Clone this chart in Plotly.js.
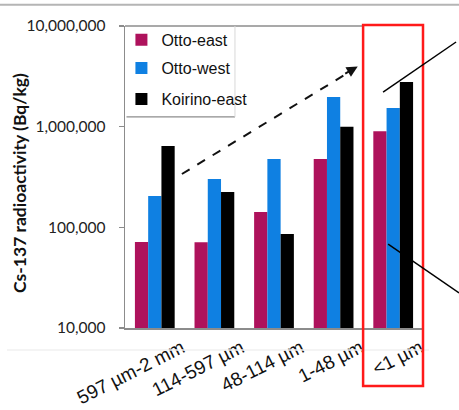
<!DOCTYPE html>
<html>
<head>
<meta charset="utf-8">
<script src="https://cdn.plot.ly/plotly-3.0.1.min.js"></script>
<style>html,body{margin:0;padding:0;background:#fff;}#chart{width:459px;height:410px;}</style>
</head>
<body>
<div id="chart"></div>
<script>
const categories = ["597 µm-2 mm", "114-597 µm", "48-114 µm", "1-48 µm", "<1 µm"];
const seriesNames = ["Otto-east", "Otto-west", "Koirino-east"];
const ottoEast = [71500, 71000, 142000, 476000, 903000];
const ottoWest = [205000, 302000, 476000, 1968000, 1530000];
const koirinoEast = [641000, 224000, 85700, 1000000, 2770000];
const yTickVals = [10000, 100000, 1000000, 10000000];
const yTickText = ["10,000", "100,000", "1,000,000", "10,000,000"];
const yTitle = "Cs-137 radioactivity (Bq/kg)";
const colors = ["#AE125C", "#0F80E2", "#000000"];

const seriesValues = [ottoEast, ottoWest, koirinoEast];
const legendIds = ["legend", "legend2", "legend3"];
const legendY = [0.954, 0.861, 0.758];

const traces = seriesValues.map((vals, i) => ({
  type: "bar",
  name: seriesNames[i],
  x: categories,
  y: vals,
  marker: {color: colors[i], line: {width: 0}},
  legend: legendIds[i],
  hoverinfo: "x+y+name"
}));

const legendBase = (y) => ({
  x: -0.012, xanchor: "left", y: y, yanchor: "middle",
  bgcolor: "rgba(0,0,0,0)", borderwidth: 0,
  font: {family: "Liberation Sans, Arial, sans-serif", size: 16, color: "#111"},
  itemwidth: 30
});

const layout = {
  width: 459, height: 410,
  margin: {l: 125, r: 36, t: 26, b: 82},
  paper_bgcolor: "#fff", plot_bgcolor: "#fff",
  barmode: "group", bargap: 0.333, bargroupgap: 0,
  showlegend: true,
  legend: legendBase(legendY[0]),
  legend2: legendBase(legendY[1]),
  legend3: legendBase(legendY[2]),
  xaxis: {
    type: "category",
    showline: true, linecolor: "#8c8c8c", linewidth: 1.5,
    ticks: "", showgrid: false, zeroline: false,
    tickangle: -27,
    ticklabelshift: 27,
    ticklabelstandoff: 0,
    tickfont: {family: "Liberation Sans, Arial, sans-serif", size: 19, color: "#111"},
    range: [-0.5, 4.5]
  },
  yaxis: {
    type: "log", range: [4, 7],
    tickvals: yTickVals, ticktext: yTickText,
    showline: true, linecolor: "#8c8c8c", linewidth: 1.5,
    ticks: "outside", ticklen: 5, tickcolor: "#8c8c8c", tickwidth: 1.5,
    showgrid: false, zeroline: false,
    ticklabelstandoff: 10,
    tickfont: {family: "Lato, sans-serif", size: 15.5, color: "#222"}
  },
  shapes: [
    {type: "line", xref: "paper", yref: "paper", x0: -0.42, x1: 1.125, y0: 1.07, y1: 1.07,
     line: {color: "#b5b5b5", width: 2}},
    {type: "line", xref: "paper", yref: "paper", x0: -0.396, x1: 1.02, y0: -0.073, y1: -0.073,
     line: {color: "#f0f0f0", width: 1.5}},
    {type: "line", xref: "paper", yref: "paper", x0: 0, x1: 0.799, y0: 1, y1: 1,
     line: {color: "#8c8c8c", width: 1.5}},
    {type: "line", xref: "paper", yref: "paper", x0: 0.005, x1: 0.369, y0: 0.699, y1: 0.699,
     line: {color: "#8c8c8c", width: 1.2}},
    {type: "line", xref: "paper", yref: "paper", x0: 0.369, x1: 0.369, y0: 0.699, y1: 1,
     line: {color: "#d8d8d8", width: 1}},
    {type: "rect", xref: "paper", yref: "paper", x0: 0.799, x1: 1.0, y0: -0.192, y1: 1.003,
     line: {color: "#ff1a1a", width: 2.5}, fillcolor: "rgba(0,0,0,0)"},
    {type: "line", xref: "paper", yref: "paper", x0: 0.191, y0: 0.510, x1: 0.770, y1: 0.858,
     line: {color: "#111", width: 2, dash: "dash"}},
    {type: "line", xref: "paper", yref: "paper", x0: 0.866, y0: 0.781, x1: 1.111, y1: 0.947,
     line: {color: "#000", width: 1.5}},
    {type: "line", xref: "paper", yref: "paper", x0: 0.883, y0: 0.278, x1: 1.121, y1: 0.116,
     line: {color: "#000", width: 1.5}}
  ],
  annotations: [
    {xref: "paper", yref: "paper", x: 0.781, y: 0.866, text: "", showarrow: true,
     arrowhead: 2, arrowsize: 1.1, arrowwidth: 2, arrowcolor: "#111", ax: -14, ay: 8},
    {xref: "paper", yref: "paper", x: -0.356, y: 0.48, xanchor: "center", yanchor: "middle",
     textangle: -90, showarrow: false, text: "<b>" + yTitle + "</b>",
     font: {family: "Lato, sans-serif", size: 17.5, color: "#111"}}
  ]
};

Plotly.newPlot("chart", traces, layout, {displayModeBar: false, staticPlot: true});
</script>
</body>
</html>
